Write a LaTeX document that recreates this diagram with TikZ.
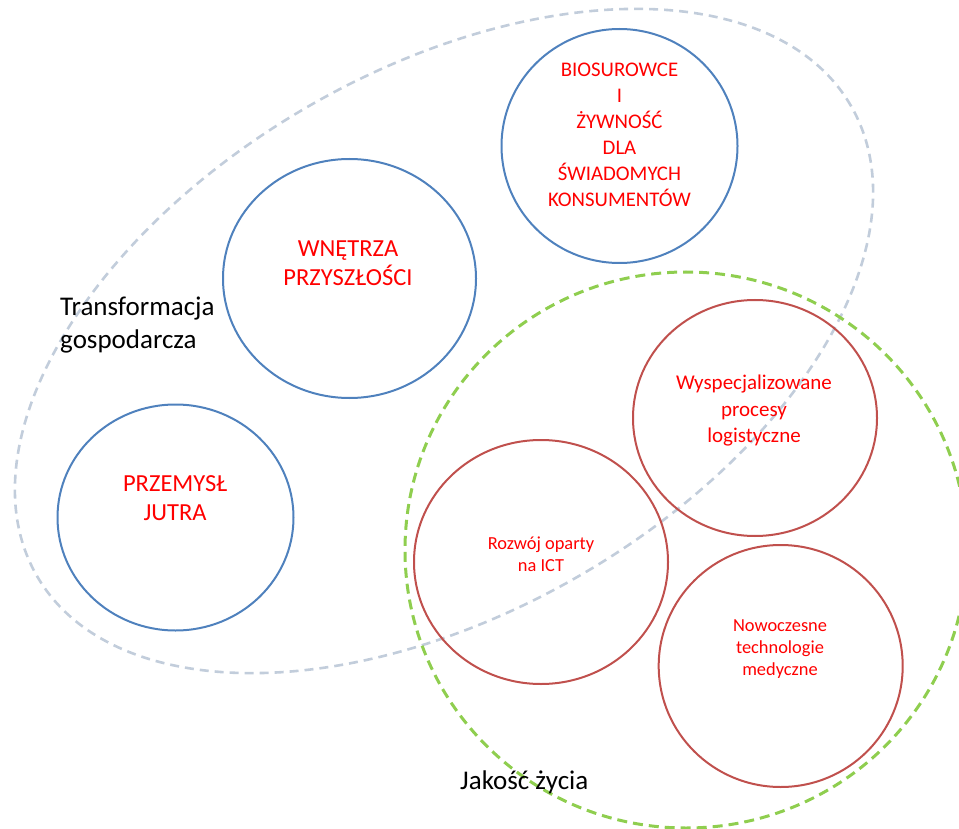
\documentclass[tikz,border=0pt]{standalone}
\usepackage{fontspec}
\setmainfont{Carlito}
\usetikzlibrary{shapes.geometric}
\definecolor{cblue}{HTML}{4F81BD}
\definecolor{cred}{HTML}{C0504D}
\definecolor{cgreen}{HTML}{8FCE4F}
\definecolor{cgrey}{HTML}{C2CDDB}
\definecolor{ctext}{HTML}{FF0000}
\begin{document}
\begin{tikzpicture}[x=1pt,y=-1pt,
  ring/.style={ellipse,inner sep=0pt,outer sep=0pt,line width=2pt},
  bluering/.style={ring,draw=cblue},
  redring/.style={ring,draw=cred},
  greenzone/.style={ellipse,inner sep=0pt,draw=cgreen,line width=3pt,dash pattern=on 10pt off 6pt},
  greyzone/.style={ellipse,inner sep=0pt,draw=cgrey,line width=2.6pt,dash pattern=on 9pt off 6pt},
  bigred/.style={text=ctext,align=center,font=\fontsize{24.5}{29}\selectfont},
  midred/.style={text=ctext,align=center,font=\fontsize{20.8}{26}\selectfont},
  smallred/.style={text=ctext,align=center,font=\fontsize{18.4}{22}\selectfont},
  zonelabel/.style={text=black,inner sep=0pt,font=\fontsize{27}{33}\selectfont}]
\useasboundingbox (0,0) rectangle (959,829);
\clip (0,0) rectangle (959,829);
\node[greyzone,minimum width=940pt,minimum height=542pt,rotate=30] (transf) at (444,341) {};
\node[greenzone,minimum width=562pt,minimum height=556pt] (jakosc) at (686,550) {};
\node[bluering,minimum width=236pt,minimum height=226pt] (przem) at (175.5,517.5) {};
\node[bluering,minimum width=253pt,minimum height=239pt] (wnet) at (349.5,278.5) {};
\node[bluering,minimum width=236pt,minimum height=234pt] (bio) at (619.5,146) {};
\node[redring,minimum width=244pt,minimum height=236pt] (wysp) at (755,418) {};
\node[redring,minimum width=254pt,minimum height=244pt] (roz) at (541,562) {};
\node[redring,minimum width=244pt,minimum height=242pt] (nowo) at (780.7,666) {};
\node[bigred] (tprzem) at (175,498) {PRZEMYSŁ\\JUTRA};
\node[bigred] (twnet) at (348,263) {WNĘTRZA\\PRZYSZŁOŚCI};
\node[midred] (tbio) at (619.5,135) {BIOSUROWCE\\I\\ŻYWNOŚĆ\\DLA\\ŚWIADOMYCH\\KONSUMENTÓW};
\node[midred,font=\fontsize{21}{26.5}\selectfont] (twysp) at (754,411) {Wyspecjalizowane\\procesy\\logistyczne};
\node[smallred] (troz) at (541,554) {Rozwój oparty\\na ICT};
\node[smallred] (tnowo) at (780,649) {Nowoczesne\\technologie\\medyczne};
\node[zonelabel,align=left,anchor=west] (ttrans) at (60,325.5) {Transformacja\\gospodarcza};
\node[zonelabel,anchor=base west] (tjak) at (460,789) {Jakość życia};
\end{tikzpicture}
\end{document}
